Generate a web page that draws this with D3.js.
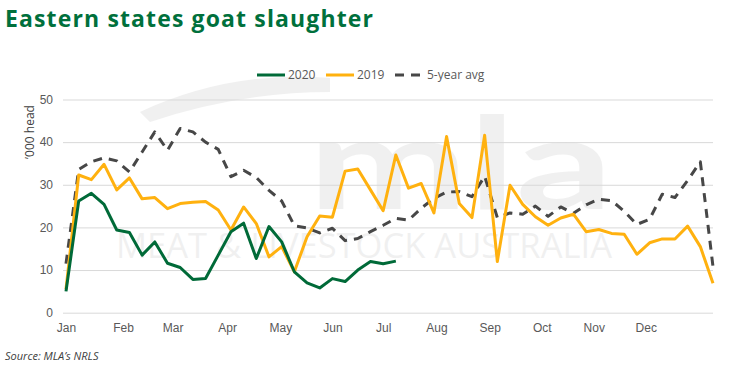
<!DOCTYPE html>
<html>
<head>
<meta charset="utf-8">
<script src="https://cdn.jsdelivr.net/npm/d3@7"></script>
<style>
  body { margin: 0; background: #fff; }
  svg { font-family: "Open Sans", "Noto Sans", sans-serif; }
  .tick text { fill: #595959; font-size: 12px; }
  .grid line { stroke: #d9d9d9; }
</style>
</head>
<body>
<svg id="chart" width="740" height="378"></svg>
<script>
// weekly slaughter, '000 head (52 weeks)
const y2020 = [5.0, 26.2, 28.0, 25.4, 19.4, 18.8, 13.5, 16.6, 11.6, 10.6, 7.8, 8.0, 13.5, 19.0, 21.0, 12.7,
  20.2, 16.6, 9.6, 7.0, 5.8, 8.0, 7.3, 10.0, 12.0, 11.5, 12.1];
const y2019 = [5.5, 32.3, 31.2, 34.8, 28.8, 31.6, 26.7, 27.0, 24.4, 25.6, 25.9, 26.1, 24.1, 19.4, 24.8, 20.9,
  13.1, 15.5, 9.6, 17.8, 22.7, 22.4, 33.2, 33.7, 28.8, 23.9, 37.0, 29.2, 30.3, 23.4, 41.3, 25.6,
  22.3, 41.6, 12.0, 29.9, 25.4, 22.5, 20.5, 22.2, 23.1, 19.0, 19.5, 18.6, 18.4, 13.7, 16.4, 17.3,
  17.3, 20.3, 15.5, 6.9];
const yAvg = [11.5, 33.6, 35.4, 36.3, 35.6, 33.0, 37.7, 42.4, 38.1, 43.2, 42.4, 40.0, 38.3, 31.9, 33.4, 31.7,
  28.7, 26.2, 20.4, 19.9, 18.7, 19.8, 16.9, 17.4, 19.0, 20.5, 22.1, 21.7, 24.5, 26.8, 28.3, 28.4,
  27.2, 32.0, 22.3, 23.4, 23.1, 25.0, 22.6, 24.8, 23.3, 25.3, 26.6, 26.3, 23.8, 20.7, 21.9, 27.8,
  27.0, 31.0, 35.4, 10.8];
const months = ['Jan', 'Feb', 'Mar', 'Apr', 'May', 'Jun', 'Jul', 'Aug', 'Sep', 'Oct', 'Nov', 'Dec'];
const monthWeeks = [0, 4.5, 8.4, 12.7, 16.9, 21.0, 25.0, 29.2, 33.4, 37.5, 41.6, 45.7];
const yTicks = [0, 10, 20, 30, 40, 50];

const series = [
  { name: '2020', values: y2020, color: '#006a38', dash: null },
  { name: '2019', values: y2019, color: '#ffb10f', dash: null },
  { name: '5-year avg', values: yAvg, color: '#474747', dash: '9,7' }
];

const svg = d3.select('#chart');

// Plot area
const plotLeft = 66, plotRight = 713, plotTop = 99.5, plotBottom = 312.7;
const x = d3.scaleLinear().domain([0, 51]).range([plotLeft, plotRight]);
const y = d3.scaleLinear().domain([0, 50]).range([plotBottom, plotTop]);

// Watermark (faint logo behind the plot), one text element so it stays a single block
const wm = svg.append('g').attr('fill', '#000').attr('opacity', 0.055);
wm.append('path')
  .attr('d', 'M140,112 Q230,70 330,78 L330,92 Q240,92 150,122 Z');
const wmText = wm.append('text');
wmText.append('tspan')
  .attr('x', 308).attr('y', 209)
  .attr('font-size', 128).attr('font-weight', 'bold')
  .attr('font-family', 'Lato, sans-serif')
  .attr('textLength', 305).attr('lengthAdjust', 'spacingAndGlyphs')
  .text('mla');
wmText.append('tspan')
  .attr('x', 116).attr('y', 258)
  .attr('font-size', 34)
  .attr('textLength', 496).attr('lengthAdjust', 'spacingAndGlyphs')
  .text('MEAT & LIVESTOCK AUSTRALIA');

// Title
svg.append('text')
  .attr('x', 5).attr('y', 27)
  .attr('fill', '#00703c')
  .attr('font-size', 23).attr('font-weight', 'bold')
  .attr('textLength', 368)
  .text('Eastern states goat slaughter');

// Gridlines + y labels
const yAxis = svg.append('g')
  .attr('class', 'grid')
  .attr('transform', `translate(${plotLeft - 3},0)`)
  .call(d3.axisLeft(y).tickValues(yTicks).tickSize(-(plotRight - plotLeft + 3)).tickPadding(10));
yAxis.select('.domain').remove();

// x labels
const xAxis = svg.append('g')
  .attr('transform', `translate(0,${plotBottom})`)
  .call(d3.axisBottom(x).tickValues(monthWeeks).tickFormat((d, i) => months[i]).tickSize(0).tickPadding(11));
xAxis.select('.domain').remove();

// y title
svg.append('text')
  .attr('transform', 'translate(34,132) rotate(-90)')
  .attr('text-anchor', 'middle')
  .attr('fill', '#404040')
  .attr('font-size', 12)
  .text('\u2019000 head');

// Lines
const line = d3.line().x((d, i) => x(i)).y(d => y(d));
svg.append('g').selectAll('path').data(series.slice().reverse())
  .enter().append('path')
    .attr('d', d => line(d.values))
    .attr('fill', 'none')
    .attr('stroke', d => d.color)
    .attr('stroke-width', 3)
    .attr('stroke-linejoin', 'round')
    .attr('stroke-dasharray', d => d.dash);

// Legend
const legendX = [257, 326, 395];
const legend = svg.append('g').selectAll('g').data(series)
  .enter().append('g')
    .attr('transform', (d, i) => `translate(${legendX[i]},75)`);
legend.append('line')
  .attr('x1', 0).attr('x2', 28)
  .attr('stroke', d => d.color)
  .attr('stroke-width', 3)
  .attr('stroke-dasharray', d => d.dash ? '9,7' : null);
legend.append('text')
  .attr('x', d => d.dash ? 32 : 31).attr('y', 4)
  .attr('fill', '#595959')
  .attr('font-size', 12)
  .text(d => d.name);

// Source
svg.append('text')
  .attr('x', 5).attr('y', 360)
  .attr('fill', '#404040')
  .attr('font-size', 11).attr('font-style', 'italic')
  .text('Source: MLA\u2019s NRLS');
</script>
</body>
</html>
